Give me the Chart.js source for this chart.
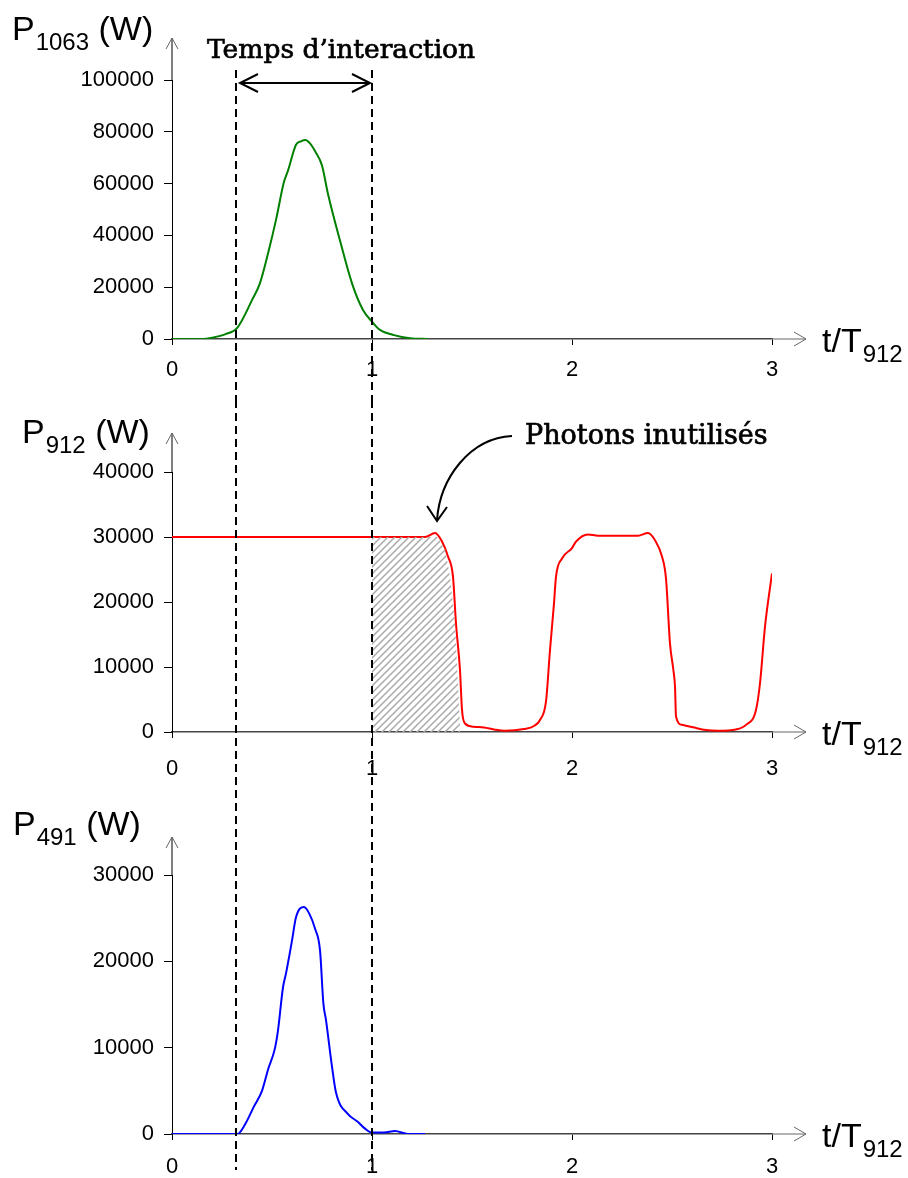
<!DOCTYPE html>
<html>
<head>
<meta charset="utf-8">
<script src="https://cdn.jsdelivr.net/npm/chart.js@4/dist/chart.umd.min.js"></script>
<style>
  body { margin: 0; background: #fff; }
  canvas { position: absolute; left: 0; }
</style>
</head>
<body>
<canvas id="c1063" width="908" height="400" style="top:0"></canvas>
<canvas id="c912" width="908" height="390" style="top:400px"></canvas>
<canvas id="c491" width="908" height="388" style="top:790px"></canvas>
<script>
// t in units of T912
const xTicks = [0, 1, 2, 3];
const interaction = [0.32, 1.0];

const t1063 = [0, 0.1, 0.155, 0.2, 0.265, 0.327, 0.40, 0.44, 0.48, 0.52, 0.56, 0.58, 0.62, 0.645, 0.667, 0.69, 0.717, 0.75, 0.78, 0.84, 0.90, 0.955, 1.0, 1.04, 1.11, 1.19, 1.28];
const p1063 = [0, 0, 0, 500, 1800, 4400, 15000, 21600, 33000, 46000, 60700, 65000, 75000, 76300, 76800, 75500, 72300, 67000, 56000, 38000, 21500, 11200, 6700, 3500, 1500, 300, 0];

const t912 = [0, 1.265, 1.315, 1.35, 1.38, 1.405, 1.42, 1.44, 1.45, 1.465, 1.51, 1.56, 1.61, 1.665, 1.76, 1.81, 1.84, 1.87, 1.89, 1.91, 1.92, 1.95, 2.0, 2.02, 2.08, 2.13, 2.33, 2.38, 2.415, 2.45, 2.47, 2.49, 2.507, 2.515, 2.52, 2.55, 2.605, 2.67, 2.73, 2.82, 2.87, 2.92, 2.94, 2.965, 3.0];
const p912 = [30000, 30000, 30600, 29300, 27000, 23900, 16700, 9500, 3400, 1300, 800, 700, 400, 200, 460, 920, 1850, 4700, 12600, 19800, 23900, 26700, 28300, 29300, 30400, 30200, 30200, 30600, 29500, 27000, 23600, 13600, 9500, 7000, 2400, 1100, 720, 300, 200, 400, 1100, 3400, 7500, 16200, 24400];

// unused photons (hatched area)
const tUnused = [1.0, 1.325, 1.365, 1.39, 1.415, 1.44, 1.44];
const pUnused = [30000, 30000, 28300, 23900, 17000, 800, 0];

const t491 = [0, 0.327, 0.365, 0.41, 0.45, 0.48, 0.515, 0.53, 0.555, 0.57, 0.60, 0.62, 0.66, 0.687, 0.715, 0.74, 0.757, 0.77, 0.80, 0.82, 0.88, 0.93, 0.965, 1.0, 1.06, 1.115, 1.18, 1.265];
const p491 = [0, 0, 1100, 3200, 5000, 7450, 9950, 12000, 17000, 18600, 22400, 25100, 26300, 25500, 23800, 21300, 15100, 13200, 7800, 4800, 2300, 1400, 620, 160, 160, 350, 0, 0];

const sans = "'Liberation Sans', Arial, sans-serif";
const serif = "'DejaVu Serif', 'Liberation Serif', serif";

const pts = (ts, ps) => ts.map((t, i) => ({ x: t, y: ps[i] }));

function hatch() {
  const c = document.createElement('canvas');
  c.width = c.height = 7;
  const g = c.getContext('2d');
  g.strokeStyle = '#aaaaaa';
  g.lineWidth = 1.5;
  g.beginPath();
  g.moveTo(0, 7); g.lineTo(7, 0);
  g.moveTo(-1, 1); g.lineTo(1, -1);
  g.moveTo(6, 8); g.lineTo(8, 6);
  g.stroke();
  return g.createPattern(c, 'repeat');
}

function line(ctx, x1, y1, x2, y2) {
  ctx.beginPath(); ctx.moveTo(x1, y1); ctx.lineTo(x2, y2); ctx.stroke();
}

function subText(ctx, x, y, main, sub, tail) {
  ctx.font = '34px ' + sans;
  ctx.fillText(main, x, y);
  x += ctx.measureText(main).width + 1;
  ctx.font = '24px ' + sans;
  ctx.fillText(sub, x, y + 10);
  x += ctx.measureText(sub).width;
  if (tail) {
    ctx.font = '34px ' + sans;
    ctx.fillText(tail, x, y);
  }
}

// semi-bold serif: regular face with a light outline
function fitText(ctx, text, x, y, width) {
  ctx.font = '24px ' + serif;
  const size = 24 * width / ctx.measureText(text).width;
  ctx.font = size.toFixed(1) + 'px ' + serif;
  ctx.fillText(text, x, y);
  ctx.lineWidth = 0.7;
  ctx.strokeStyle = '#000';
  ctx.strokeText(text, x, y);
}

const decor = {
  id: 'decor',
  afterDraw(chart, args, o) {
    const { ctx, chartArea: a, scales: { x, y } } = chart;
    const y0 = y.getPixelForValue(0);
    ctx.save();
    ctx.strokeStyle = '#666';
    ctx.lineWidth = 1;
    // axis arrows
    line(ctx, a.right, y0, a.right + 34, y0);
    ctx.beginPath();
    ctx.moveTo(a.right + 22, y0 - 7); ctx.lineTo(a.right + 34, y0); ctx.lineTo(a.right + 22, y0 + 7);
    ctx.stroke();
    ctx.strokeStyle = '#000';
    line(ctx, a.left, a.top, a.left, o.yTip);
    ctx.strokeStyle = '#666';
    ctx.beginPath();
    ctx.moveTo(a.left - 6, o.yTip + 11); ctx.lineTo(a.left, o.yTip); ctx.lineTo(a.left + 6, o.yTip + 11);
    ctx.stroke();
    // interaction time limits
    ctx.strokeStyle = '#000';
    ctx.lineWidth = 2;
    ctx.setLineDash([8, 5]);
    interaction.forEach(t => {
      const px = Math.round(x.getPixelForValue(t));
      line(ctx, px, o.dashTop, px, o.dashBottom);
    });
    ctx.setLineDash([]);
    // titles
    ctx.fillStyle = '#000';
    ctx.textBaseline = 'alphabetic';
    ctx.textAlign = 'left';
    subText(ctx, o.titleX, o.titleY, 'P', o.sub, ' (W)');
    subText(ctx, 822, y0 + 13, 't/T', '912');
    if (o.extra) o.extra(chart);
    ctx.restore();
  }
};

function makeChart(id, datasets, yMax, yStep, top, xHeight, xPad, decorOpts) {
  return new Chart(document.getElementById(id), {
    type: 'line',
    data: { datasets },
    plugins: [decor],
    options: {
      responsive: false,
      animation: false,
      devicePixelRatio: 1,
      layout: { padding: { left: 0, right: 136, top: top, bottom: 0 } },
      plugins: { legend: { display: false }, tooltip: { enabled: false }, decor: decorOpts },
      elements: { point: { radius: 0 }, line: { cubicInterpolationMode: 'monotone', borderWidth: 2 } },
      scales: {
        x: {
          type: 'linear', min: 0, max: 3,
          afterFit: s => { s.height = xHeight; },
          afterBuildTicks: s => { s.ticks = xTicks.map(v => ({ value: v })); },
          grid: { drawOnChartArea: false, tickLength: 6, color: '#000' },
          border: { display: true, color: '#444', width: 1.5 },
          ticks: { color: '#000', padding: xPad, font: { family: sans, size: 22 }, callback: v => String(v) }
        },
        y: {
          min: 0, max: yMax,
          afterFit: s => { s.width = 172; },
          grid: { drawOnChartArea: false, tickLength: 8, color: '#000' },
          border: { display: true, color: '#000', width: 1 },
          ticks: { stepSize: yStep, color: '#000', padding: 10, font: { family: sans, size: 22 }, callback: v => String(v) }
        }
      }
    }
  });
}

makeChart('c1063', [
  { data: pts(t1063, p1063), borderColor: '#008000', fill: false }
], 100000, 20000, 80, 61, 12, {
  yTip: 38, dashTop: 70, dashBottom: 400, titleX: 12, titleY: 40, sub: '1063',
  extra(chart) {
    const { ctx, scales: { x } } = chart;
    const xa = x.getPixelForValue(interaction[0]) + 4;
    const xb = x.getPixelForValue(interaction[1]) - 2;
    const ya = 83;
    ctx.strokeStyle = '#000';
    ctx.lineWidth = 2;
    line(ctx, xa, ya, xb, ya);
    ctx.beginPath();
    ctx.moveTo(xa + 18, ya - 9); ctx.lineTo(xa, ya); ctx.lineTo(xa + 18, ya + 9);
    ctx.moveTo(xb - 18, ya - 9); ctx.lineTo(xb, ya); ctx.lineTo(xb - 18, ya + 9);
    ctx.stroke();
    fitText(ctx, 'Temps d\u2019interaction', 207, 58, 268);
  }
});

makeChart('c912', [
  { data: pts(tUnused, pUnused), borderWidth: 0, borderColor: 'rgba(0,0,0,0)', backgroundColor: hatch(), fill: 'origin', cubicInterpolationMode: 'default', tension: 0 },
  { data: pts(t912, p912), borderColor: '#ff0000', fill: false }
], 40000, 10000, 72, 58, 18, {
  yTip: 33, dashTop: 0, dashBottom: 390, titleX: 22, titleY: 43, sub: '912',
  extra(chart) {
    const { ctx } = chart;
    ctx.strokeStyle = '#000';
    ctx.lineWidth = 2;
    ctx.beginPath();
    ctx.moveTo(512, 36);
    ctx.bezierCurveTo(470, 38, 440, 78, 437, 120);
    ctx.stroke();
    ctx.beginPath();
    ctx.moveTo(427, 106); ctx.lineTo(437, 121); ctx.lineTo(447, 107);
    ctx.stroke();
    fitText(ctx, 'Photons inutilis\u00e9s', 525, 44, 243);
  }
});

makeChart('c491', [
  { data: pts(t491, p491), borderColor: '#0000ff', fill: false }
], 30000, 10000, 85, 44, 14, {
  yTip: 47, dashTop: 0, dashBottom: 380, titleX: 13, titleY: 45, sub: '491'
});
</script>
</body>
</html>
